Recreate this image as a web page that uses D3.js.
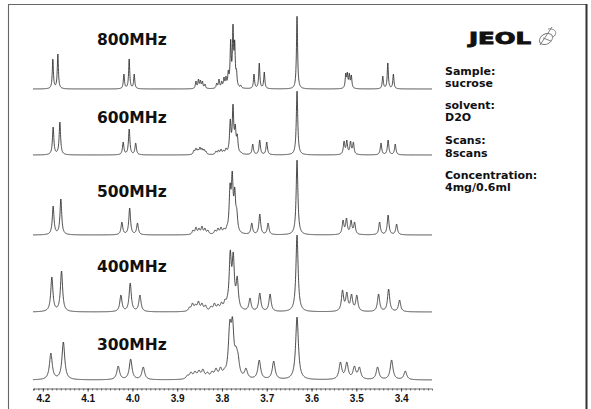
<!DOCTYPE html>
<html><head><meta charset="utf-8">
<script src="https://cdn.jsdelivr.net/npm/d3@7"></script>
<style>body{margin:0;background:#fff}svg{display:block}</style>
</head><body>
<svg id="c" width="591" height="409"></svg>
<script>
// ---------------- data ----------------
const spectra = ["800MHz", "600MHz", "500MHz", "400MHz", "300MHz"];
const tickValues = [4.2, 4.1, 4.0, 3.9, 3.8, 3.7, 3.6, 3.5, 3.4];
const tickLabels = ["4.2", "4.1", "4.0", "3.9", "3.8", "3.7", "3.6", "3.5", "3.4"];
const infoLines = ["Sample:", "sucrose", "solvent:", "D2O", "Scans:", "8scans", "Concentration:", "4mg/0.6ml"];
const brand = "JEOL";
// Lorentzian half width (ppm) for each spectrum
const lineWidths = [0.0015, 0.0019, 0.0023, 0.0029, 0.0037];
// peaks: [ppm, intensity]
const peaks800 = [
  [4.1777, 30], [4.1665, 35],
  [4.0190, 15], [4.0072, 30], [3.9960, 15],
  [3.8581, 8], [3.8525, 10], [3.8481, 9], [3.8436, 8], [3.8380, 5],
  [3.8118, 6], [3.8067, 10], [3.8007, 8], [3.7955, 12], [3.7911, 13], [3.7859, 19],
  [3.7806, 50], [3.7754, 65], [3.7716, 49], [3.7676, 20], [3.7582, 4],
  [3.7285, 15], [3.7167, 26], [3.7055, 17],
  [3.6324, 73],
  [3.5236, 16], [3.5200, 17], [3.5155, 16], [3.5111, 14],
  [3.4409, 13], [3.4297, 26], [3.4172, 15]
];
const peaks600 = [
  [4.1770, 28], [4.1620, 33],
  [4.0206, 13], [4.0072, 26], [3.9927, 12],
  [3.8626, 5], [3.8581, 7], [3.8536, 6], [3.8492, 8], [3.8447, 7], [3.8402, 6], [3.8358, 4],
  [3.8134, 4], [3.8078, 5], [3.8022, 6], [3.7966, 5], [3.7910, 7], [3.7855, 9],
  [3.7815, 36], [3.7754, 51], [3.7703, 31], [3.7658, 21], [3.7575, 3],
  [3.7313, 11], [3.7157, 15], [3.7000, 13],
  [3.6324, 64],
  [3.5274, 14], [3.5212, 15], [3.5129, 14], [3.5066, 13],
  [3.4449, 12], [3.4290, 15], [3.4131, 11]
];
const peaks500 = [
  [4.1770, 29], [4.1598, 36],
  [4.0235, 13], [4.0061, 27], [3.9887, 12],
  [3.8648, 5], [3.8581, 8], [3.8514, 7], [3.8447, 9], [3.8380, 7], [3.8313, 5],
  [3.8156, 5], [3.8089, 7], [3.8022, 8], [3.7955, 7], [3.7888, 10], [3.7832, 14],
  [3.7820, 52], [3.7771, 64], [3.7715, 48], [3.7670, 27],
  [3.7335, 12], [3.7156, 21], [3.6970, 12],
  [3.6324, 75],
  [3.5296, 15], [3.5220, 17], [3.5117, 15], [3.5039, 13],
  [3.4480, 13], [3.4290, 20], [3.4100, 11]
];
const peaks400 = [
  [4.1799, 35], [4.1583, 41],
  [4.0257, 17], [4.0049, 29], [3.9832, 17],
  [3.8726, 5], [3.8659, 9], [3.8592, 8], [3.8525, 11], [3.8447, 9], [3.8369, 7],
  [3.8246, 6], [3.8168, 9], [3.8089, 8], [3.8011, 10], [3.7933, 13], [3.7877, 17],
  [3.7815, 62], [3.7748, 60], [3.7659, 36],
  [3.7374, 14], [3.7156, 19], [3.6926, 18],
  [3.6324, 77],
  [3.5308, 22], [3.5212, 20], [3.5107, 18], [3.4989, 17],
  [3.4503, 18], [3.4279, 23], [3.4034, 12]
];
const peaks300 = [
  [4.1821, 27], [4.1542, 38],
  [4.0317, 14], [4.0039, 21], [3.9758, 13],
  [3.8771, 5], [3.8693, 8], [3.8603, 9], [3.8514, 10], [3.8425, 11], [3.8324, 8],
  [3.8223, 9], [3.8134, 12], [3.8033, 13], [3.7944, 12], [3.7866, 18],
  [3.7826, 60], [3.7765, 63], [3.7686, 34], [3.7642, 27],
  [3.7464, 12], [3.7167, 20], [3.6845, 19],
  [3.6324, 63],
  [3.5355, 18], [3.5212, 18], [3.5043, 14], [3.4931, 13],
  [3.4525, 13], [3.4212, 20], [3.3906, 9]
];
const peakLists = [peaks800, peaks600, peaks500, peaks400, peaks300];

// ---------------- layout ----------------
const W = 591, H = 409;
const rowBaselines = [89, 155, 235, 312, 380];
const labelBaselines = [45, 123, 197, 272, 350];
const xRange = [33, 432];
const xDomain = [4.222, 3.331];
const axisY = 388.5;
const ink = "#2a2a2a";

const svg = d3.select("#c");
svg.append("rect").attr("width", W).attr("height", H).attr("fill", "#fff");
// frame: thin left/top, heavier right, bottom runs off the picture
svg.append("path").attr("d", "M8.5,412 V4.5 H586.5")
  .attr("fill", "none").attr("stroke", "#666").attr("stroke-width", 1.1);
svg.append("path").attr("d", "M586.5,4 V412")
  .attr("fill", "none").attr("stroke", "#333").attr("stroke-width", 2);

const x = d3.scaleLinear().domain(xDomain).range(xRange);
const y = d3.scaleLinear().domain([0, 100]).range([0, -100]);

// fit amplitudes so that the summed curve reproduces the read peak heights
function lor(d, w) { const t = d / w; return 1 / (1 + t * t); }
function fitAmps(pk, w) {
  const n = pk.length, A = pk.map(p => p[1]);
  for (let it = 0; it < 200; it++) {
    for (let i = 0; i < n; i++) {
      let s = 0;
      for (let j = 0; j < n; j++) s += A[j] * lor(pk[i][0] - pk[j][0], w);
      A[i] = Math.max(0, A[i] + 0.5 * (pk[i][1] - s));
    }
  }
  return A;
}

const line = d3.line().x(d => x(d[0])).y(d => y(d[1]));
const sampleStep = 0.0003;
const grid = d3.range(xDomain[0], xDomain[1] - 1e-9, -sampleStep);

spectra.forEach((name, k) => {
  const pk = peakLists[k], w = lineWidths[k];
  const A = fitAmps(pk, w);
  const pts = grid.map(p => {
    let s = 0;
    for (let j = 0; j < pk.length; j++) s += A[j] * lor(p - pk[j][0], w);
    return [p, s];
  });
  const g = svg.append("g").attr("transform", `translate(0,${rowBaselines[k]})`);
  g.append("path").attr("d", line(pts)).attr("fill", "none")
    .attr("stroke", ink).attr("stroke-width", 0.85).attr("stroke-linejoin", "round");
  svg.append("text").attr("x", 97).attr("y", labelBaselines[k])
    .attr("font-family", "DejaVu Sans").attr("font-weight", "bold")
    .attr("font-size", 15.5).attr("fill", "#111").text(name);
});

// axis
const minor = d3.range(422, 333, -1).map(v => v / 100);
svg.append("g").attr("transform", `translate(0,${axisY})`)
  .call(d3.axisBottom(x).tickValues(minor).tickSize(2).tickFormat(""))
  .call(g => g.selectAll("path,line").attr("stroke", "#444").attr("stroke-width", 0.8));
svg.append("g").attr("transform", `translate(0,${axisY})`)
  .call(d3.axisBottom(x).tickValues(tickValues).tickSize(3).tickPadding(3)
    .tickFormat((d, i) => tickLabels[i]))
  .call(g => g.select(".domain").remove())
  .call(g => g.selectAll("line").attr("stroke", "#444"))
  .call(g => g.selectAll("text").attr("font-family", "'Liberation Sans Narrow','Liberation Sans',sans-serif")
    .attr("font-weight", "bold").attr("font-size", 10).attr("fill", "#111"));

// logo
const logo = svg.append("g");
logo.append("text").attr("x", 469).attr("y", 44).attr("textLength", 62).attr("lengthAdjust", "spacingAndGlyphs")
  .attr("font-family", "DejaVu Sans").attr("font-weight", "bold").attr("font-size", 15)
  .attr("fill", "#111").attr("stroke", "#111").attr("stroke-width", 0.8).text(brand);
logo.append("ellipse").attr("cx", 546).attr("cy", 39).attr("rx", 7).attr("ry", 5)
  .attr("fill", "none").attr("stroke", "#777").attr("stroke-width", 0.9).attr("transform", "rotate(-30,546,39)");
logo.append("path").attr("d", "M540,45 L552,27 M548,29 C556,28 558,34 553,37 M543,38 L551,41")
  .attr("fill", "none").attr("stroke", "#777").attr("stroke-width", 0.9);

// info text
const infoY = [75, 87, 109, 121, 144, 157, 179, 191];
infoLines.forEach((t, i) => {
  svg.append("text").attr("x", 445).attr("y", infoY[i])
    .attr("font-family", "DejaVu Sans").attr("font-weight", "bold").attr("font-size", 11)
    .attr("fill", "#111").text(t);
});
</script>
</body></html>
